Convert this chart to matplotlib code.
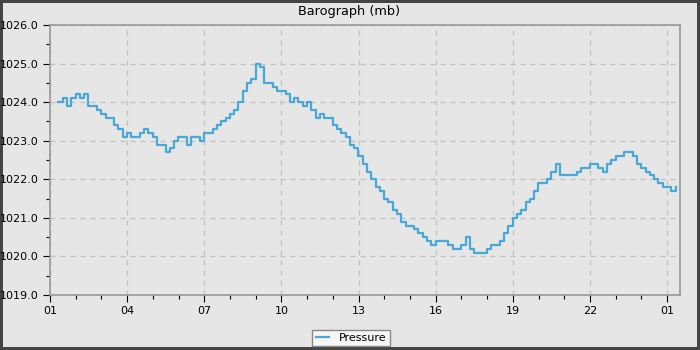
import matplotlib.pyplot as plt
import numpy as np

# readings every 10 minutes, starting 01:20 (hour 0 = 01:00)
start_hour = 0.33
step_hours = 1 / 6
pressure = [
    1024.0, 1024.1, 1023.9, 1024.1, 1024.2, 1024.1,   # 0.33 - 1.17
    1024.2, 1023.9, 1023.9, 1023.8, 1023.7, 1023.6,   # 1.33 - 2.17
    1023.6, 1023.4, 1023.3, 1023.1, 1023.2, 1023.1,   # 2.33 - 3.17
    1023.1, 1023.2, 1023.3, 1023.2, 1023.1, 1022.9,   # 3.33 - 4.17
    1022.9, 1022.7, 1022.8, 1023.0, 1023.1, 1023.1,   # 4.33 - 5.17
    1022.9, 1023.1, 1023.1, 1023.0, 1023.2, 1023.2,   # 5.33 - 6.17
    1023.3, 1023.4, 1023.5, 1023.6, 1023.7, 1023.8,   # 6.33 - 7.17
    1024.0, 1024.3, 1024.5, 1024.6, 1025.0, 1024.9,   # 7.33 - 8.17
    1024.5, 1024.5, 1024.4, 1024.3, 1024.3, 1024.2,   # 8.33 - 9.17
    1024.0, 1024.1, 1024.0, 1023.9, 1024.0, 1023.8,   # 9.33 - 10.17
    1023.6, 1023.7, 1023.6, 1023.6, 1023.4, 1023.3,   # 10.33 - 11.17
    1023.2, 1023.1, 1022.9, 1022.8, 1022.6, 1022.4,   # 11.33 - 12.17
    1022.2, 1022.0, 1021.8, 1021.7, 1021.5, 1021.4,   # 12.33 - 13.17
    1021.2, 1021.1, 1020.9, 1020.8, 1020.8, 1020.7,   # 13.33 - 14.17
    1020.6, 1020.5, 1020.4, 1020.3, 1020.4, 1020.4,   # 14.33 - 15.17
    1020.4, 1020.3, 1020.2, 1020.2, 1020.3, 1020.5,   # 15.33 - 16.17
    1020.2, 1020.1, 1020.1, 1020.1, 1020.2, 1020.3,   # 16.33 - 17.17
    1020.3, 1020.4, 1020.6, 1020.8, 1021.0, 1021.1,   # 17.33 - 18.17
    1021.2, 1021.4, 1021.5, 1021.7, 1021.9, 1021.9,   # 18.33 - 19.17
    1022.0, 1022.2, 1022.4, 1022.1, 1022.1, 1022.1,   # 19.33 - 20.17
    1022.1, 1022.2, 1022.3, 1022.3, 1022.4, 1022.4,   # 20.33 - 21.17
    1022.3, 1022.2, 1022.4, 1022.5, 1022.6, 1022.6,   # 21.33 - 22.17
    1022.7, 1022.7, 1022.6, 1022.4, 1022.3, 1022.2,   # 22.33 - 23.17
    1022.1, 1022.0, 1021.9, 1021.8, 1021.8, 1021.7,   # 23.33 - 24.17
    1021.8,                                           # 24.33
]
tick_hours = [0, 3, 6, 9, 12, 15, 18, 21, 24]
tick_labels = ['01', '04', '07', '10', '13', '16', '19', '22', '01']

hours = start_hour + step_hours * np.arange(len(pressure))

bg = '#e6e6e6'
fig = plt.figure(figsize=(7, 3.5), dpi=100, facecolor=bg,
                 edgecolor='#444444', linewidth=3)
ax = fig.add_axes([50 / 700, 1 - 295 / 350, 630 / 700, 270 / 350])
ax.set_facecolor(bg)

ax.plot(hours, pressure, drawstyle='steps-post', color='#4aa8d8',
        lw=1.6, label='Pressure')

ax.set_xlim(0, 24.5)
ax.set_ylim(1019, 1026)
ax.set_xticks(tick_hours)
ax.set_xticklabels(tick_labels)
ax.set_xticks(np.arange(0, 25, 1), minor=True)
ax.set_yticks(np.arange(1019, 1026.5, 1))
ax.set_yticklabels(['%.1f' % v for v in np.arange(1019, 1026.5, 1)])
ax.set_yticks(np.arange(1019, 1026, 0.5), minor=True)
ax.tick_params(which='major', length=5, width=0.8, labelsize=8, pad=3)
ax.tick_params(which='minor', length=3, width=0.8)
ax.grid(True, which='major', color='#c0c0c0', ls=(0, (4, 4)), lw=0.9)

for s in ax.spines.values():
    s.set_color('#999999')
    s.set_linewidth(1.2)

fig.text(349 / 700, 1 - 12 / 350, 'Barograph (mb)', ha='center',
         va='center', fontsize=9.3)

leg = fig.legend(loc='center', bbox_to_anchor=(351 / 700, 1 - 338 / 350),
                 fontsize=8, frameon=True, fancybox=False,
                 handlelength=1.2, borderpad=0.3, handletextpad=0.9)
leg.get_frame().set_facecolor('#f6f6f6')
leg.get_frame().set_edgecolor('#888888')
leg.get_frame().set_alpha(1)

fig.savefig('out.png', dpi=100, facecolor=bg, edgecolor='#444444')
